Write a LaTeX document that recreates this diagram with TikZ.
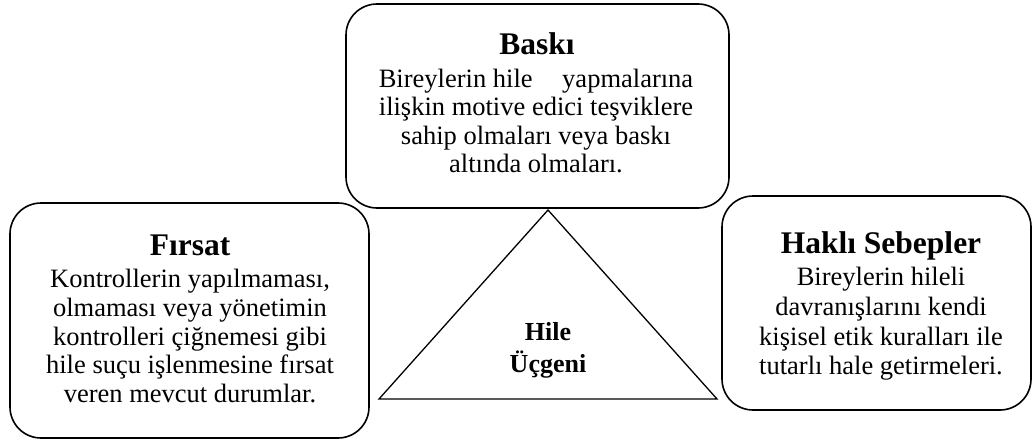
\documentclass[tikz,border=0pt]{standalone}
\usepackage{fontspec}
\setmainfont{Liberation Serif}
\tikzset{
  boxshape/.style={draw, line width=1.6pt, rounded corners=31pt, inner sep=0pt, rectangle},
  titletext/.style={font=\bfseries\fontsize{31.5}{34}\selectfont, inner sep=0pt, anchor=base},
  bodytext/.style={font=\fontsize{26.5}{28.7}\selectfont, align=center, inner sep=0pt, anchor=north},
  tri/.style={draw, line width=1.3pt, line join=miter}
}
\begin{document}
\begin{tikzpicture}[x=1pt, y=-1pt]
\useasboundingbox (0,0) rectangle (1032,444);
% boxes
\node[boxshape, minimum width=383pt, minimum height=204pt] (baski) at (537.5,106) {};
\node[boxshape, minimum width=359pt, minimum height=235pt] (firsat) at (189.5,320.5) {};
\node[boxshape, minimum width=309pt, minimum height=214pt] (hakli) at (876.5,303) {};
% triangle
\coordinate (apex) at (548,210);
\coordinate (bl) at (379,399);
\coordinate (br) at (717,399);
\draw[tri] (apex) -- (bl) -- (br) -- cycle;
% texts
\node[titletext] (baskititle) at (537,55) {Baskı};
\node[bodytext, font=\fontsize{26.5}{28.3}\selectfont] (baskibody) at (536,69) {Bireylerin hile\hspace{23pt} yapmalarına\\ilişkin motive edici teşviklere\\sahip olmaları veya baskı\\altında olmaları.};
\node[titletext] (firsattitle) at (190,255) {Fırsat};
\node[bodytext, font=\fontsize{26.5}{28.75}\selectfont] (firsatbody) at (190,269) {Kontrollerin yapılmaması,\\olmaması veya yönetimin\\kontrolleri çiğnemesi gibi\\hile suçu işlenmesine fırsat\\veren mevcut durumlar.};
\node[titletext] (haklititle) at (881,253) {Haklı Sebepler};
\node[bodytext, font=\fontsize{26.5}{29.8}\selectfont] (haklibody) at (881,267) {Bireylerin hileli\\davranışlarını kendi\\kişisel etik kuralları ile\\tutarlı hale getirmeleri.};
\node[bodytext, font=\bfseries\fontsize{26}{32}\selectfont] (hile) at (548,322) {Hile\\Üçgeni};
\end{tikzpicture}
\end{document}
